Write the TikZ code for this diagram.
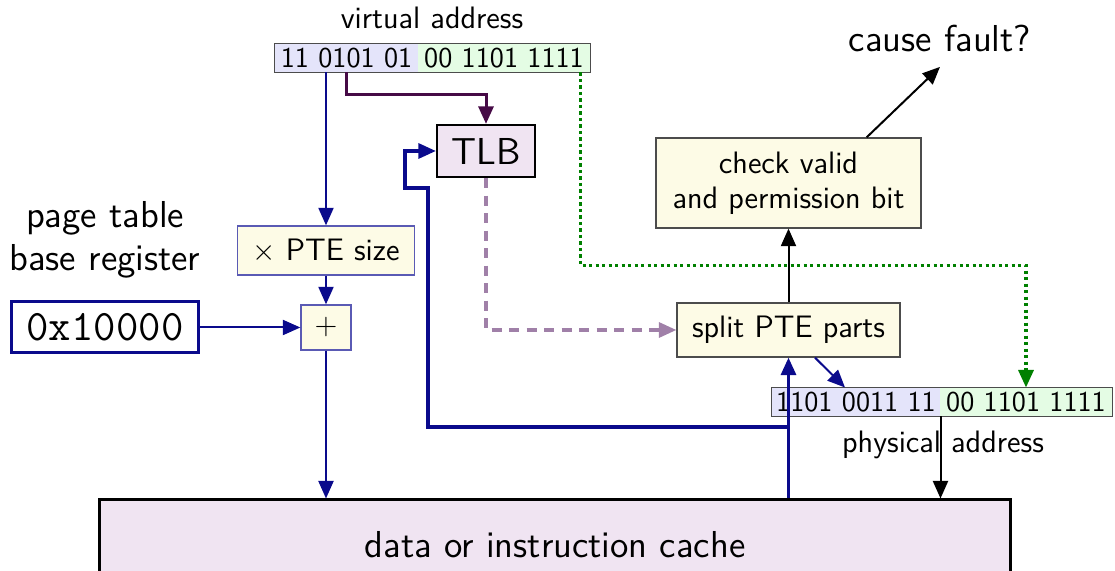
\documentclass[tikz,border=0pt]{standalone}
\usetikzlibrary{arrows.meta}
\renewcommand{\familydefault}{\sfdefault}
\definecolor{navy}{RGB}{10,10,140}
\definecolor{dpurple}{RGB}{70,10,70}
\definecolor{lpurple}{RGB}{160,128,168}
\definecolor{dgreen}{RGB}{0,128,0}
\definecolor{bitblue}{RGB}{228,228,250}
\definecolor{bitgreen}{RGB}{228,252,228}
\definecolor{ylw}{RGB}{253,251,230}
\definecolor{pfill}{RGB}{240,228,242}
\definecolor{boxblue}{RGB}{90,90,180}
\newcommand\fA{\fontsize{12.4pt}{14pt}\selectfont}
\newcommand\fB{\fontsize{15pt}{17.2pt}\selectfont}
\newcommand\fbits{\fontsize{11.5pt}{13pt}\selectfont}
\newcommand\fM{\fontsize{17.4pt}{19pt}\selectfont\ttfamily}
\begin{document}
\begin{tikzpicture}[x=0.4pt,y=-0.4pt,
  arr/.style={-{Triangle[length=7pt,width=6pt]}},
  bitL/.style={fill=bitblue,inner sep=0,minimum height=11.2pt,font=\fbits},
  bitR/.style={fill=bitgreen,inner sep=0,minimum height=11.2pt,font=\fbits},
  ybox/.style={fill=ylw,draw=black!70,line width=0.5pt,inner sep=0,font=\fA},
  bbox/.style={fill=ylw,draw=boxblue,line width=0.5pt,inner sep=0,font=\fA},
  thinblue/.style={navy,line width=0.8pt,arr},
  thickblue/.style={navy,line width=1.3pt},
  blk/.style={black,line width=0.8pt,arr}]
\useasboundingbox (0,0) rectangle (1115,571);

% virtual address
\node[font=\fA] (valbl) at (432,18) {virtual address};
\node[bitL,minimum width=57.2pt] (vaL) at (346.5,58) {11 0101 01};
\node[bitR,minimum width=68.8pt] (vaR) at (504,58) {00 1101 1111};
\draw[black!70,line width=0.5pt] (vaL.north west) rectangle (vaR.south east);

% boxes
\node[draw,line width=0.9pt,fill=pfill,minimum width=39.2pt,minimum height=20.8pt,inner sep=0,font=\fB] (tlb) at (486,151) {TLB};
\node[bbox,minimum width=70.8pt,minimum height=19.6pt] (pte) at (326,250.5) {$\times$ PTE size};
\node[bbox,minimum width=20pt,minimum height=18pt] (plus) at (326,327.5) {$+$};
\node[font=\fB,align=center] (ptlbl) at (105,240) {page table\\base register};
\node[draw=navy,line width=1.2pt,minimum width=74.4pt,minimum height=20.4pt,inner sep=0,font=\fM] (base) at (105,327.5) {0x10000};
\node[draw,line width=1.2pt,fill=pfill,minimum width=364pt,minimum height=36pt,inner sep=0,font=\fB] (cache) at (555,545) {data or instruction cache};
\node[ybox,minimum width=89.2pt,minimum height=21.6pt] (split) at (788.5,330) {split PTE parts};
\node[ybox,align=center,minimum width=106pt,minimum height=36pt] (check) at (788.5,183) {check valid\\and permission bit};
\node[font=\fB,inner sep=0] (fault) at (940,38) {cause fault?};

% physical address
\node[bitL,minimum width=67.2pt] (paL) at (856,402) {1101 0011 11};
\node[bitR,minimum width=68.8pt] (paR) at (1026,402) {00 1101 1111};
\draw[black!70,line width=0.5pt] (paL.north west) rectangle (paR.south east);
\node[font=\fA] (palbl) at (943,445) {physical address};

% connectors
\draw[thinblue] (pte.north |- vaL.south) -- (pte.north);
\draw[thinblue] (pte.south) -- (plus.north);
\draw[thinblue] (base.east) -- (plus.west);
\draw[thinblue] (plus.south) -- (plus.south |- cache.north);
\draw[dpurple,line width=1.2pt,arr] (vaL.south) -- ++(0,22) -| (tlb.north);
\draw[lpurple,line width=1.3pt,dash pattern=on 4pt off 3pt,arr] (tlb.south) |- (split.west);
\draw[dgreen,line width=1.3pt,dash pattern=on 1.3pt off 1.3pt,arr] ([xshift=-4pt]vaR.south east) -- ++(0,193) -| (paR.north);
\coordinate (br) at (788.5,427);
\draw[thickblue,arr] (split.south |- cache.north) -- (split.south);
\draw[thickblue,arr] (br) -- (428,427) -- (428,188) -- (405,188) |- (tlb.west);
\draw[blk] (split.north) -- (check.south);
\draw[blk] ([xshift=-22pt]check.north east) -- ([yshift=-6pt]fault.south);
\draw[thinblue] ([xshift=10.6pt]split.south) -- ([xshift=-4.4pt]paL.north);
\draw[blk] (paL.south east) -- (paL.south east |- cache.north);
\end{tikzpicture}
\end{document}
